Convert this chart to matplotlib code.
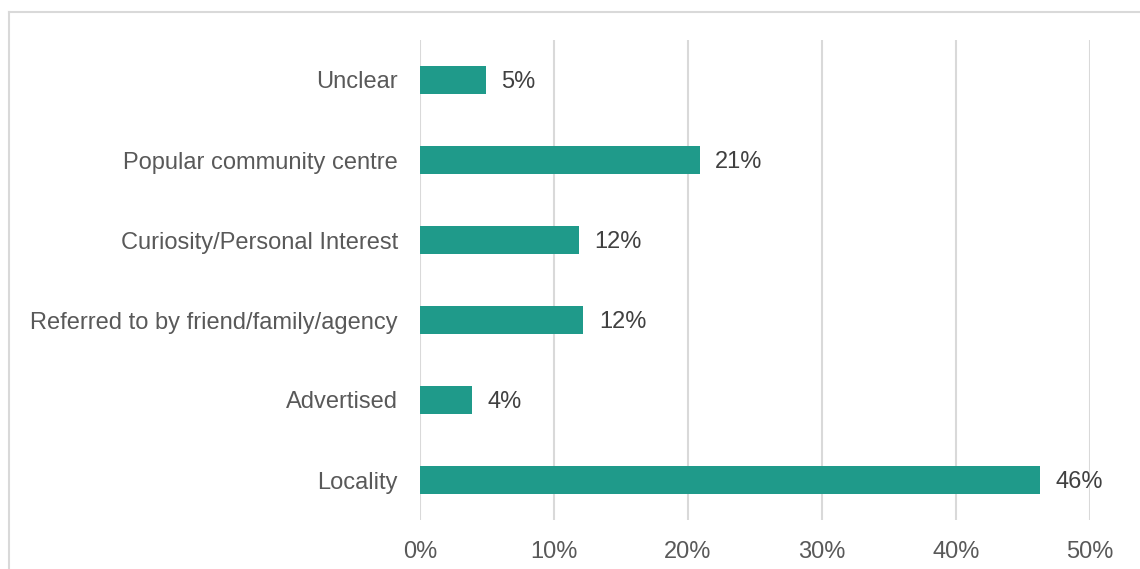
import matplotlib
matplotlib.use("Agg")
import matplotlib.pyplot as plt
from matplotlib.lines import Line2D

# Reasons respondents gave for attending (share of responses, %)
categories = [
    "Locality",
    "Advertised",
    "Referred to by friend/family/agency",
    "Curiosity/Personal Interest",
    "Popular community centre",
    "Unclear",
]
shares = [46.3, 3.9, 12.2, 11.9, 20.9, 4.9]
x_ticks = [0, 10, 20, 30, 40, 50]
x_tick_labels = ["0%", "10%", "20%", "30%", "40%", "50%"]

BAR_COLOR = "#1f9a8a"
TEXT_COLOR = "#595959"
VALUE_COLOR = "#404040"
GRID_COLOR = "#d9d9d9"

plt.rcParams["font.family"] = ["Liberation Sans", "DejaVu Sans"]

fig = plt.figure(figsize=(11.4, 5.69), dpi=100)
ax = fig.add_axes([420 / 1140, 1 - 520 / 569, 670 / 1140, 480 / 569])

positions = list(range(len(categories)))
ax.barh(positions, shares, height=0.36, color=BAR_COLOR, zorder=3)

for pos, val in zip(positions, shares):
    ax.annotate(f"{val:.0f}%", xy=(val, pos), xytext=(11, -1.6),
                textcoords="offset points", ha="left", va="center",
                fontsize=17, color=VALUE_COLOR, zorder=4)

ax.set_xlim(0, 50)
ax.set_ylim(-0.5, len(categories) - 0.5)
ax.set_xticks(x_ticks)
ax.set_xticklabels(x_tick_labels)
ax.set_yticks(positions)
ax.set_yticklabels(categories)
ax.tick_params(axis="x", length=0, pad=15, labelsize=17, labelcolor=TEXT_COLOR)
ax.tick_params(axis="y", length=0, pad=16, labelsize=17, labelcolor=TEXT_COLOR)

ax.grid(axis="x", color=GRID_COLOR, linewidth=1.5, zorder=0)
ax.grid(axis="y", visible=False)
for side in ax.spines.values():
    side.set_visible(False)

# Light frame along the top and left of the chart area
fig.add_artist(Line2D([9 / 1140, 9 / 1140], [0, 1 - 11.5 / 569],
                      transform=fig.transFigure, color=GRID_COLOR, linewidth=1.5))
fig.add_artist(Line2D([9 / 1140, 1], [1 - 11.5 / 569, 1 - 11.5 / 569],
                      transform=fig.transFigure, color=GRID_COLOR, linewidth=1.5))

fig.savefig("out.png", dpi=100)
